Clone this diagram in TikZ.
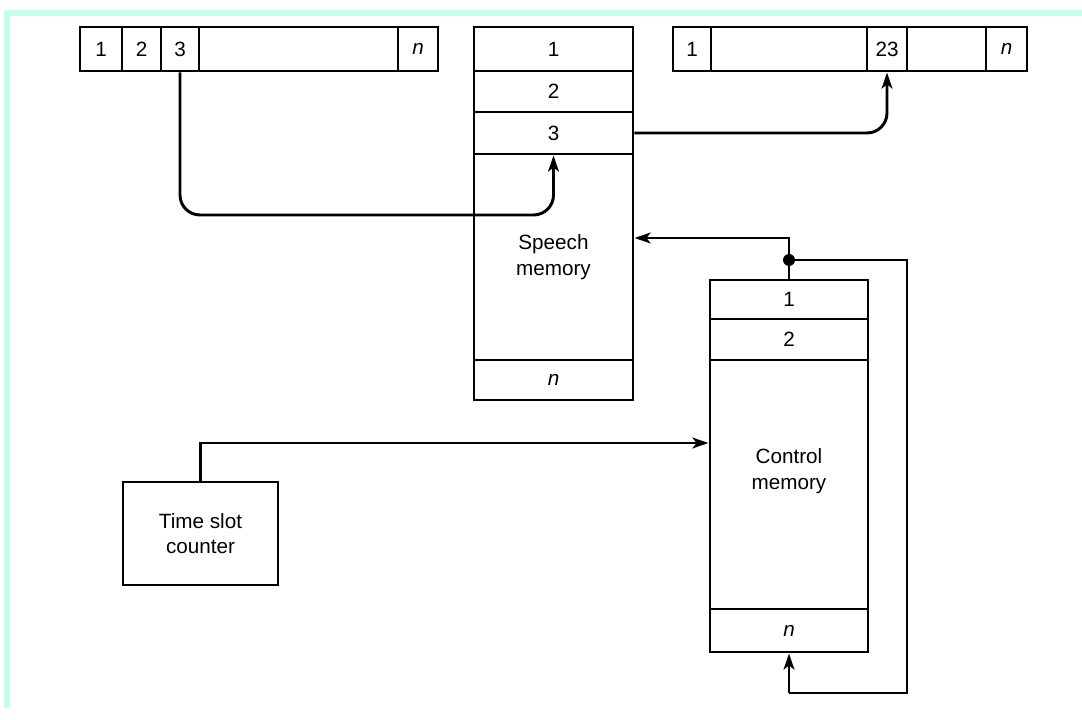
\documentclass[tikz,border=0pt]{standalone}
\usepackage{fontspec}
\setmainfont{Liberation Sans}
\usetikzlibrary{arrows.meta}
\definecolor{mint}{RGB}{198,252,236}
\begin{document}
\begin{tikzpicture}[x=0.75pt,y=-0.75pt,
  every node/.style={font=\fontsize{15.5}{18}\selectfont},
  cell/.style={draw,line width=2.2pt,inner sep=0pt,minimum height=33pt,anchor=center},
  conn/.style={line width=2.2pt},
  arr/.style={conn,-{Stealth[length=12pt,width=8pt,inset=3pt]}},
  lbl/.style={align=center,inner sep=0pt,font=\fontsize{15.5}{19}\selectfont}]
\useasboundingbox (0,0) rectangle (1082,720);
% cyan frame
\fill[mint] (4,10) rectangle (1082,16);
\fill[mint] (4,10) rectangle (10,708);

% top-left frame register
\node[cell,minimum width=31.5pt] (L1) at (101,49) {1};
\node[cell,minimum width=29.25pt] (L2) at (141.5,49) {2};
\node[cell,minimum width=28.5pt] (L3) at (180,49) {3};
\node[cell,minimum width=149.25pt] (LB) at (298.5,49) {};
\node[cell,minimum width=30pt] (LN) at (418,49) {\textit{n}};

% top-right frame register
\node[cell,minimum width=28.5pt] (R1) at (692,49) {1};
\node[cell,minimum width=117pt] (RB1) at (789,49) {};
\node[cell,minimum width=30pt] (R23) at (887,49) {23};
\node[cell,minimum width=59.25pt] (RB2) at (946.5,49) {};
\node[cell,minimum width=30.75pt] (RN) at (1006.5,49) {\textit{n}};

% speech memory
\node[cell,minimum width=119.25pt,minimum height=33pt] (S1) at (553.5,49) {1};
\node[cell,minimum width=119.25pt,minimum height=30.75pt] (S2) at (553.5,91.5) {2};
\node[cell,minimum width=119.25pt,minimum height=31.5pt] (S3) at (553.5,133) {3};
\node[cell,minimum width=119.25pt,minimum height=154.5pt,lbl] (SB) at (553.5,257) {Speech\\memory};
\node[cell,minimum width=119.25pt,minimum height=30pt] (SN) at (553.5,380) {\textit{n}};

% control memory
\node[cell,minimum width=118.5pt,minimum height=29.25pt] (C1) at (789,299.5) {1};
\node[cell,minimum width=118.5pt,minimum height=30.75pt] (C2) at (789,339.5) {2};
\node[cell,minimum width=118.5pt,minimum height=186.75pt] (CB) at (789,484.5) {};
\node[lbl] (CL) at (789,471) {Control\\memory};
\node[cell,minimum width=118.5pt,minimum height=32.25pt] (CN) at (789,630.5) {\textit{n}};

% time slot counter
\node[cell,minimum width=116.25pt,minimum height=77.25pt,lbl] (TS) at (200.5,533.5) {Time slot\\counter};

% connectors
\draw[arr,rounded corners=15pt] (L3.south) -- (L3.south |- 0,215) -- (S3.south |- 0,215) -- (S3.south);
\draw[arr,rounded corners=15pt] (S3.east) -- (R23.south |- S3.east) -- (R23.south);

\coordinate (dot) at (789,260);
\coordinate (loopTR) at (907,260);
\coordinate (loopBR) at (907,693);
\draw[arr] (C1.north) -- (C1.north |- 0,238) -- (SB.east |- 0,238);
\draw[conn] (dot) -- (loopTR) -- (loopBR) -- (CN.south |- loopBR);
\draw[arr] (CN.south |- loopBR) -- (CN.south);
\fill (dot) circle (4.5pt);

\draw[arr] (TS.north) -- (TS.north |- 0,443) -- (CB.west |- 0,443);
\end{tikzpicture}
\end{document}
